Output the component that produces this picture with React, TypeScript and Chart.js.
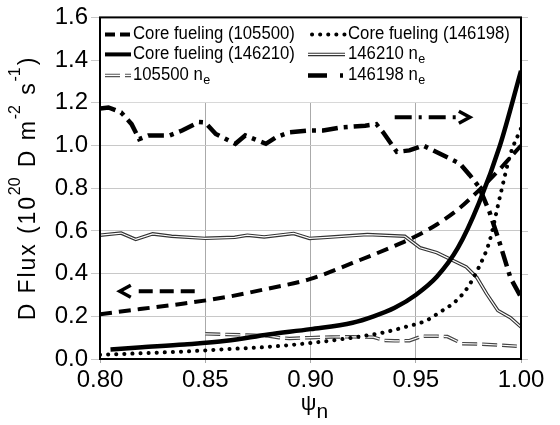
import { useEffect, useRef } from "react";
import { Chart, registerables } from "chart.js";

Chart.register(...registerables);

const FONT = "'Liberation Sans', Arial, sans-serif";

// ---- data (psi_n, D flux in 1e20 D m^-2 s^-1) ----
const core105500Psi = [0.80, 0.82, 0.84, 0.86, 0.88, 0.90, 0.92, 0.94, 0.95, 0.96, 0.97, 0.98, 0.99, 1.00];
const core105500Flux = [0.21, 0.235, 0.26, 0.29, 0.33, 0.375, 0.45, 0.53, 0.575, 0.63, 0.70, 0.79, 0.89, 1.0];

const core146210Psi = [0.805, 0.82, 0.84, 0.86, 0.88, 0.90, 0.92, 0.93, 0.94, 0.95, 0.96, 0.97, 0.98, 0.99, 1.00];
const core146210Flux = [0.045, 0.055, 0.068, 0.085, 0.115, 0.14, 0.17, 0.20, 0.24, 0.30, 0.385, 0.52, 0.73, 1.0, 1.35];

const core146198Psi = [0.80, 0.82, 0.84, 0.86, 0.88, 0.90, 0.92, 0.935, 0.945, 0.955, 0.96, 0.97, 0.975, 0.98, 0.985, 0.99, 0.995, 1.00];
const core146198Flux = [0.02, 0.027, 0.035, 0.046, 0.057, 0.075, 0.10, 0.125, 0.15, 0.18, 0.21, 0.28, 0.34, 0.43, 0.55, 0.76, 0.96, 1.08];

const ne146210Psi = [0.80, 0.81, 0.817, 0.825, 0.834, 0.85, 0.864, 0.870, 0.878, 0.892, 0.8995, 0.908, 0.927, 0.9448, 0.952, 0.96, 0.974, 0.979, 0.9837, 0.989, 0.995, 1.00];
const ne146210Flux = [0.58, 0.59, 0.56, 0.586, 0.575, 0.565, 0.57, 0.58, 0.572, 0.588, 0.565, 0.57, 0.583, 0.575, 0.521, 0.498, 0.431, 0.382, 0.305, 0.227, 0.193, 0.15];

const ne105500Psi = [0.85, 0.86, 0.87, 0.88, 0.885, 0.89, 0.90, 0.91, 0.92, 0.93, 0.935, 0.94, 0.947, 0.953, 0.96, 0.965, 0.972, 0.98, 0.99, 0.998];
const ne105500Flux = [0.118, 0.115, 0.112, 0.108, 0.10, 0.096, 0.10, 0.103, 0.104, 0.102, 0.087, 0.085, 0.086, 0.107, 0.107, 0.105, 0.072, 0.07, 0.065, 0.06];

const ne146198Psi = [0.80, 0.804, 0.81, 0.815, 0.8186, 0.823, 0.833, 0.839, 0.847, 0.85, 0.855, 0.8643, 0.869, 0.8788, 0.8837, 0.89, 0.8995, 0.906, 0.915, 0.926, 0.9313, 0.9345, 0.941, 0.947, 0.9535, 0.963, 0.971, 0.9757, 0.98, 0.985, 0.99, 0.995, 1.00];
const ne146198Flux = [1.173, 1.178, 1.155, 1.10, 1.03, 1.047, 1.047, 1.07, 1.11, 1.108, 1.054, 1.008, 1.047, 1.008, 1.039, 1.062, 1.07, 1.07, 1.085, 1.093, 1.10, 1.062, 0.97, 0.977, 1.0, 0.954, 0.915, 0.861, 0.807, 0.69, 0.54, 0.38, 0.29];

// arrows (data units)
const arrowLeftPsi = [0.845, 0.8094];
const arrowLeftFlux = [0.317, 0.317];
const arrowRightPsi = [0.940, 0.9757];
const arrowRightFlux = [1.132, 1.132];

// axes
const xMin = 0.8, xMax = 1.0, xStep = 0.05;
const yMin = 0, yMax = 1.6, yStep = 0.2;
const legendFloor = 1.2;

const legendLabels = [
  { text: "Core fueling (105500)", sub: "" },
  { text: "Core fueling (146198)", sub: "" },
  { text: "Core fueling (146210)", sub: "" },
  { text: "146210 n", sub: "e" },
  { text: "105500 n", sub: "e" },
  { text: "146198 n", sub: "e" },
];

const yTitleParts = [
  { t: "D Flux (10", s: false },
  { t: "20", s: true },
  { t: " D m", s: false },
  { t: "-2", s: true },
  { t: " s", s: false },
  { t: "-1", s: true },
  { t: ")", s: false },
];

const pts = (xs: number[], ys: number[]) => xs.map((x, i) => ({ x, y: ys[i] }));

function drawSample(ctx: CanvasRenderingContext2D, kind: string, x1: number, x2: number, y: number) {
  ctx.save();
  ctx.strokeStyle = "#000";
  ctx.lineCap = "butt";
  const line = (w: number, color: string, dash: number[]) => {
    ctx.beginPath();
    ctx.lineWidth = w;
    ctx.strokeStyle = color;
    ctx.setLineDash(dash);
    ctx.moveTo(x1, y);
    ctx.lineTo(x2, y);
    ctx.stroke();
  };
  if (kind === "dash") line(4, "#000", [10, 5]);
  else if (kind === "solid") line(4, "#000", []);
  else if (kind === "dot") {
    ctx.lineCap = "round";
    line(4, "#000", [0.1, 8]);
  } else if (kind === "double") {
    line(3.5, "#333", []);
    line(1.2, "#fff", []);
  } else if (kind === "doubledash") {
    line(3.5, "#555", [15, 5]);
    line(1.2, "#fff", [15, 5]);
  } else if (kind === "dashdot") {
    line(4.5, "#000", [19, 13, 3, 40]);
  }
  ctx.restore();
}

function drawSubText(ctx: CanvasRenderingContext2D, x: number, y: number, text: string, sub: string, size: number, sx: number) {
  ctx.save();
  ctx.translate(x, y);
  ctx.scale(sx, 1);
  ctx.font = `${size}px ${FONT}`;
  ctx.fillText(text, 0, 0);
  if (sub) {
    const w = ctx.measureText(text).width;
    ctx.font = `${size * 0.75}px ${FONT}`;
    ctx.fillText(sub, w + 0.5, 5);
  }
  ctx.restore();
}

function drawArrow(ctx: CanvasRenderingContext2D, xa: number, ya: number, xb: number, yb: number, dash: number[]) {
  const dir = Math.sign(xb - xa);
  ctx.save();
  ctx.strokeStyle = "#000";
  ctx.lineWidth = 4;
  ctx.setLineDash(dash);
  ctx.beginPath();
  ctx.moveTo(xa, ya);
  ctx.lineTo(xb - dir * 14, yb);
  ctx.stroke();
  ctx.setLineDash([]);
  ctx.lineWidth = 3.5;
  ctx.lineJoin = "miter";
  ctx.beginPath();
  ctx.moveTo(xb - dir * 11, yb - 6);
  ctx.lineTo(xb, yb);
  ctx.lineTo(xb - dir * 11, yb + 6);
  ctx.stroke();
  ctx.restore();
}

const customPlugin = {
  id: "custom",
  beforeDatasetsDraw(chart: any) {
    const { ctx, chartArea } = chart;
    const ys = chart.scales.y;
    const floor = ys.getPixelForValue(legendFloor);
    ctx.save();
    ctx.fillStyle = "#fff";
    ctx.fillRect(chartArea.left, chartArea.top, chartArea.right - chartArea.left, floor - 0.5 - chartArea.top);
    const L = chartArea.left;
    const T = chartArea.top;
    const rows = [T + 17, T + 37, T + 58];
    const kinds = ["dash", "dot", "solid", "double", "doubledash", "dashdot"];
    ctx.fillStyle = "#000";
    ctx.textBaseline = "middle";
    ctx.textAlign = "left";
    for (let i = 0; i < legendLabels.length; i++) {
      const col = i % 2;
      const row = Math.floor(i / 2);
      const y = rows[row];
      if (col === 0) {
        drawSample(ctx, kinds[i], L + 5, L + 31, y);
        drawSubText(ctx, L + 33, y, legendLabels[i].text, legendLabels[i].sub, 18, 0.93);
      } else {
        const x1 = kinds[i] === "dot" ? L + 212 : L + 208;
        drawSample(ctx, kinds[i], x1, L + 245, y);
        drawSubText(ctx, L + 248, y, legendLabels[i].text, legendLabels[i].sub, 18, 0.93);
      }
    }
    ctx.restore();
  },
  afterDatasetsDraw(chart: any) {
    const { ctx } = chart;
    const xs = chart.scales.x;
    const ys = chart.scales.y;
    drawArrow(ctx, xs.getPixelForValue(arrowLeftPsi[0]), ys.getPixelForValue(arrowLeftFlux[0]),
      xs.getPixelForValue(arrowLeftPsi[1]), ys.getPixelForValue(arrowLeftFlux[1]), [14, 7]);
    drawArrow(ctx, xs.getPixelForValue(arrowRightPsi[0]), ys.getPixelForValue(arrowRightFlux[0]),
      xs.getPixelForValue(arrowRightPsi[1]), ys.getPixelForValue(arrowRightFlux[1]), [17, 7, 3, 7]);
  },
  afterDraw(chart: any) {
    const { ctx, chartArea } = chart;
    const ys = chart.scales.y;
    ctx.save();
    // right-side tick stubs
    ctx.strokeStyle = "#c8c8c8";
    ctx.lineWidth = 1;
    for (let v = yMin; v <= yMax + 1e-9; v += yStep) {
      const y = Math.round(ys.getPixelForValue(v)) + 0.5;
      ctx.beginPath();
      ctx.moveTo(chartArea.right, y);
      ctx.lineTo(chartArea.right + 7, y);
      ctx.stroke();
    }
    // frame
    ctx.strokeStyle = "#000";
    ctx.lineWidth = 2;
    ctx.strokeRect(chartArea.left, chartArea.top, chartArea.right - chartArea.left, chartArea.bottom - chartArea.top);

    // y title (rotated), spaced characters for main text only
    const big = 23, small = 16, ls = 1.9;
    ctx.fillStyle = "#000";
    ctx.textBaseline = "alphabetic";
    ctx.textAlign = "left";
    const glyphs: { c: string; s: boolean; w: number }[] = [];
    let total = 0;
    yTitleParts.forEach((p) => {
      ctx.font = `${p.s ? small : big}px ${FONT}`;
      if (p.s) {
        const w = ctx.measureText(p.t).width + ls;
        glyphs.push({ c: p.t, s: true, w });
        total += w;
      } else {
        for (const c of p.t) {
          const w = ctx.measureText(c).width + ls;
          glyphs.push({ c, s: false, w });
          total += w;
        }
      }
    });
    ctx.translate(35, 188);
    ctx.rotate(-Math.PI / 2);
    let x = -total / 2;
    glyphs.forEach((g) => {
      ctx.font = `${g.s ? small : big}px ${FONT}`;
      ctx.fillText(g.c, x, g.s ? -15 : 0);
      x += g.w;
    });
    ctx.restore();

    // x title psi_n
    ctx.save();
    ctx.fillStyle = "#000";
    ctx.textBaseline = "alphabetic";
    ctx.textAlign = "left";
    ctx.font = `22px ${FONT}`;
    const wPsi = ctx.measureText("\u03c8").width;
    ctx.font = `21px ${FONT}`;
    const wN = ctx.measureText("n").width;
    const cx = (chartArea.left + chartArea.right) / 2 + 4;
    const start = cx - (wPsi + wN) / 2;
    ctx.font = `22px ${FONT}`;
    ctx.fillText("\u03c8", start, 410);
    ctx.font = `21px ${FONT}`;
    ctx.fillText("n", start + wPsi, 418);
    ctx.restore();
  },
};

export default function App() {
  const ref = useRef<HTMLCanvasElement>(null);
  useEffect(() => {
    if (!ref.current) return;
    const common = { pointRadius: 0, fill: false };
    const chart = new Chart(ref.current, {
      type: "line",
      data: {
        datasets: [
          { ...common, data: pts(core146210Psi, core146210Flux), borderColor: "#000", borderWidth: 4.5, cubicInterpolationMode: "monotone" },
          { ...common, data: pts(core105500Psi, core105500Flux), borderColor: "#000", borderWidth: 4, borderDash: [12, 7], cubicInterpolationMode: "monotone" },
          { ...common, data: pts(core146198Psi, core146198Flux), borderColor: "#000", borderWidth: 4, borderDash: [0.1, 8], borderCapStyle: "round", cubicInterpolationMode: "monotone" },
          { ...common, data: pts(ne146198Psi, ne146198Flux), borderColor: "#000", borderWidth: 4.5, borderDash: [16, 6, 4, 6], tension: 0 },
          { ...common, data: pts(ne146210Psi, ne146210Flux), borderColor: "#fff", borderWidth: 1.2, tension: 0 },
          { ...common, data: pts(ne146210Psi, ne146210Flux), borderColor: "#333", borderWidth: 3.5, tension: 0 },
          { ...common, data: pts(ne105500Psi, ne105500Flux), borderColor: "#fff", borderWidth: 1.2, borderDash: [15, 5], tension: 0 },
          { ...common, data: pts(ne105500Psi, ne105500Flux), borderColor: "#444", borderWidth: 3.5, borderDash: [15, 5], tension: 0 },
        ] as any,
      },
      options: {
        responsive: false,
        animation: false,
        devicePixelRatio: 1,
        layout: { padding: { left: 0, right: 39, top: 14, bottom: 0 } },
        plugins: { legend: { display: false }, tooltip: { enabled: false } },
        scales: {
          x: {
            type: "linear",
            min: xMin,
            max: xMax,
            ticks: {
              stepSize: xStep,
              callback: (v: any) => Number(v).toFixed(2),
              font: { family: FONT, size: 24 },
              color: "#000",
              padding: 3,
              maxRotation: 0,
            },
            grid: { color: "#aaaaaa", lineWidth: 1, tickLength: 4 },
            border: { display: false },
            afterFit: (s: any) => { s.height = 66; },
          },
          y: {
            type: "linear",
            min: yMin,
            max: yMax,
            ticks: {
              stepSize: yStep,
              callback: (v: any) => Number(v).toFixed(1),
              font: { family: FONT, size: 24 },
              color: "#000",
              padding: 3,
            },
            grid: { color: "#c8c8c8", lineWidth: 1, tickLength: 9 },
            border: { display: false },
            afterFit: (s: any) => { s.width = 100; },
          },
        },
      } as any,
      plugins: [customPlugin],
    });
    return () => chart.destroy();
  }, []);
  return (
    <div style={{ position: "absolute", left: 0, top: 0, width: 560, height: 425 }}>
      <canvas ref={ref} width={560} height={425} />
    </div>
  );
}
